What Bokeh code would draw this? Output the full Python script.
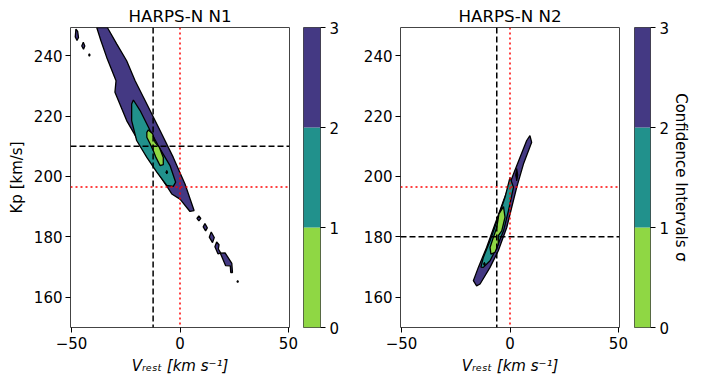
from bokeh.plotting import figure
from bokeh.layouts import row
from bokeh.models import Range1d, Span, LinearAxis, FixedTicker
from bokeh.embed import file_html
from bokeh.resources import INLINE

# ---------------- data ----------------
sigma_levels = [0, 1, 2, 3]
sigma_colors = ["#8fd744", "#21918c", "#443983"]   # 0-1, 1-2, 2-3 sigma
cbar_ticks = [0, 1, 2, 3]
x_ticks = [-50, 0, 50]
y_ticks = [160, 180, 200, 220, 240]

expected_vrest = 0.0
expected_kp = 196.5

n1_best_vrest = -12.4
n1_best_kp = 210.0
n2_best_vrest = -6.1
n2_best_kp = 180.0

# HARPS-N N1 : 3-sigma region (outer)
n1_s3_vrest = [-38.4, -33.5, -29.2, -24.6, -20.7, -15.3, -9.2, -3.1, 2.3, 6.5,
               4.6, 0.0, -3.8, -10.7, -18.4, -24.6, -30.0, -29.5, -33.8, -36.5]
n1_s3_kp = [249.3, 249.3, 243.9, 238.3, 231.7, 224.0, 215.2, 206.3, 197.5, 188.7,
            188.4, 192.5, 194.2, 201.9, 210.8, 218.5, 227.9, 231.7, 239.4, 245.0]
# HARPS-N N1 : 2-sigma region
n1_s2_vrest = [-21.5, -18.4, -13.8, -9.2, -4.6, -2.0, -3.1, -6.1, -10.7, -15.3, -20.0, -22.3, -22.3]
n1_s2_kp = [225.3, 221.8, 215.2, 209.1, 203.6, 198.1, 196.7, 197.0, 201.4, 206.3, 211.9, 218.5, 224.0]
# HARPS-N N1 : 1-sigma region
n1_s1_vrest = [-14.6, -12.6, -11.5, -9.5, -7.7, -7.7, -9.2, -11.1, -12.3, -13.8, -15.3, -15.3]
n1_s1_kp = [215.4, 214.1, 211.3, 209.6, 206.3, 203.9, 203.6, 206.3, 208.5, 210.8, 213.0, 214.6]
# HARPS-N N1 : small 3-sigma islands
n1_isl_vrest = [[-48.0, -47.2, -46.8, -47.5, -48.3],
                [-44.6, -43.9, -44.5, -45.3],
                [-41.8, -41.5, -41.8, -42.1],
                [8.7, 9.6, 8.7, 7.8],
                [11.5, 12.6, 11.8, 10.7],
                [14.4, 15.8, 15.0, 13.5],
                [16.9, 18.0, 17.7, 18.8, 17.5, 16.1],
                [18.6, 20.8, 23.9, 24.2, 23.4, 23.2, 21.0],
                [26.6, 26.9, 26.6, 26.3]]
n1_isl_kp = [[248.8, 248.0, 246.0, 245.0, 246.2],
             [244.4, 243.2, 242.1, 243.2],
             [240.6, 240.2, 239.8, 240.2],
             [186.9, 186.1, 185.3, 186.1],
             [184.4, 183.0, 182.0, 183.3],
             [181.6, 179.8, 178.1, 179.9],
             [178.3, 177.4, 176.0, 174.6, 174.4, 176.7],
             [174.6, 174.7, 171.2, 168.2, 168.2, 170.4, 170.5],
             [165.5, 165.2, 164.9, 165.2]]
# HARPS-N N1 : tiny holes
n1_hole_vrest = [[-6.1, -5.7, -6.1, -6.5]]
n1_hole_kp = [[202.0, 201.4, 200.8, 201.4]]

# HARPS-N N2 : 3-sigma region (outer)
n2_s3_vrest = [9.2, 10.0, 6.2, 3.1, 0.8, -1.5, -5.4, -9.2, -13.8, -15.4, -16.9,
               -14.6, -10.8, -6.9, -3.0, 1.6, 4.6, 7.7]
n2_s3_kp = [213.5, 211.3, 204.1, 196.4, 189.8, 183.1, 175.4, 169.9, 164.4, 163.8, 165.5,
            169.9, 176.5, 184.3, 192.0, 200.8, 206.3, 211.9]
# HARPS-N N2 : 2-sigma region
n2_s2_vrest = [0.0, 1.6, -0.7, -3.0, -6.1, -9.2, -12.3, -13.4, -12.3, -9.2, -5.4, -2.3]
n2_s2_kp = [199.7, 196.4, 188.7, 182.0, 176.5, 172.1, 169.9, 170.0, 173.2, 178.7, 186.5, 193.1]
# HARPS-N N2 : 1-sigma region
n2_s1_vrest = [-3.0, -2.3, -3.8, -5.4, -5.4, -6.9, -8.8, -9.2, -7.7, -6.1, -5.1]
n2_s1_kp = [190.0, 186.5, 182.0, 180.4, 177.6, 174.9, 174.3, 176.5, 179.8, 183.1, 187.6]
# HARPS-N N2 : tiny holes
n2_hole_vrest = [[3.1, 3.6, 3.1, 2.6], [-11.8, -11.4, -11.8, -12.2]]
n2_hole_kp = [[202.6, 200.5, 198.5, 200.5], [171.6, 171.0, 170.4, 171.0]]

FONT = "DejaVu Sans"
EDGE = "#444444"


def style_axes(p):
    for ax in p.axis:
        ax.axis_line_color = None
        ax.major_tick_line_color = "black"
        ax.major_tick_out = 5
        ax.major_tick_in = 0
        ax.minor_tick_line_color = None
        ax.major_label_text_font = FONT
        ax.major_label_text_font_size = "15px"
        ax.major_label_text_color = "black"
        ax.axis_label_text_font = FONT
        ax.axis_label_text_font_size = "15px"
        ax.axis_label_text_color = "black"
        ax.axis_label_text_font_style = "normal"
    p.outline_line_color = EDGE
    p.outline_line_width = 1
    p.grid.visible = False


def make_panel(title, s3x, s3y, ix, iy, s2x, s2y, s1x, s1y, hx, hy,
               best_v, best_k, ylabel, left_border, right_border):
    p = figure(frame_width=219, frame_height=300,
               x_range=Range1d(-50.5, 50.5), y_range=Range1d(150, 249.3),
               toolbar_location=None, output_backend="svg",
               min_border_left=left_border, min_border_right=right_border,
               min_border_top=27, min_border_bottom=51, title=title)
    p.title.text_font = FONT
    p.title.text_font_size = "16.7px"
    p.title.text_font_style = "normal"
    p.title.text_color = "black"
    p.title.align = "center"
    p.title.standoff = 3

    p.patches(xs=[s3x] + ix, ys=[s3y] + iy, fill_color=sigma_colors[2],
              line_color="black", line_width=1.3)
    p.patch(s2x, s2y, fill_color=sigma_colors[1], line_color="black", line_width=1.3)
    p.patch(s1x, s1y, fill_color=sigma_colors[0], line_color="black", line_width=1.3)
    p.patches(xs=hx, ys=hy, fill_color="black", line_color="black", line_width=1)

    p.add_layout(Span(location=best_v, dimension="height", line_color="black",
                      line_dash="6 3", line_width=1.5))
    p.add_layout(Span(location=best_k, dimension="width", line_color="black",
                      line_dash="6 3", line_width=1.5))
    p.add_layout(Span(location=expected_vrest, dimension="height", line_color="red",
                      line_dash="2 3", line_width=1.5))
    p.add_layout(Span(location=expected_kp, dimension="width", line_color="red",
                      line_dash="2 3", line_width=1.5))

    p.xaxis.ticker = FixedTicker(ticks=x_ticks)
    p.yaxis.ticker = FixedTicker(ticks=y_ticks)
    p.xaxis.major_label_overrides = {t: str(t).replace("-", "\u2212") for t in x_ticks}
    p.xaxis.axis_label = "V\u1d63\u2091\u209b\u209c [km s\u207b\u00b9]"
    p.yaxis.axis_label = ylabel
    style_axes(p)
    p.xaxis.axis_label_text_font_style = "italic"
    p.xaxis.major_label_standoff = 4
    p.yaxis.major_label_standoff = 3
    return p


def make_cbar(label, right_border, frame_w):
    c = figure(frame_width=frame_w, frame_height=300,
               x_range=Range1d(0, 1), y_range=Range1d(0, 3),
               toolbar_location=None, output_backend="svg",
               min_border_left=0, min_border_right=right_border,
               min_border_top=27, min_border_bottom=51,
               x_axis_location=None, y_axis_location=None)
    c.quad(left=0, right=1, bottom=sigma_levels[:-1], top=sigma_levels[1:],
           fill_color=sigma_colors, line_color=None)
    ax = LinearAxis(ticker=FixedTicker(ticks=cbar_ticks), axis_label=label)
    c.add_layout(ax, "right")
    style_axes(c)
    ax.major_label_standoff = 4
    ax.axis_label_standoff = 0
    return c


p1 = make_panel("HARPS-N N1", n1_s3_vrest, n1_s3_kp, n1_isl_vrest, n1_isl_kp,
                n1_s2_vrest, n1_s2_kp, n1_s1_vrest, n1_s1_kp, n1_hole_vrest, n1_hole_kp,
                n1_best_vrest, n1_best_kp, "Kp [km/s]", 70, 14)
c1 = make_cbar("", 40, 17)
p2 = make_panel("HARPS-N N2", n2_s3_vrest, n2_s3_kp, [], [],
                n2_s2_vrest, n2_s2_kp, n2_s1_vrest, n2_s1_kp, n2_hole_vrest, n2_hole_kp,
                n2_best_vrest, n2_best_kp, "", 38, 15)
c2 = make_cbar("Confidence Intervals \u03c3", 55, 16)

layout = row(p1, c1, p2, c2, spacing=0)
open("out.html", "w").write(file_html(layout, INLINE))
